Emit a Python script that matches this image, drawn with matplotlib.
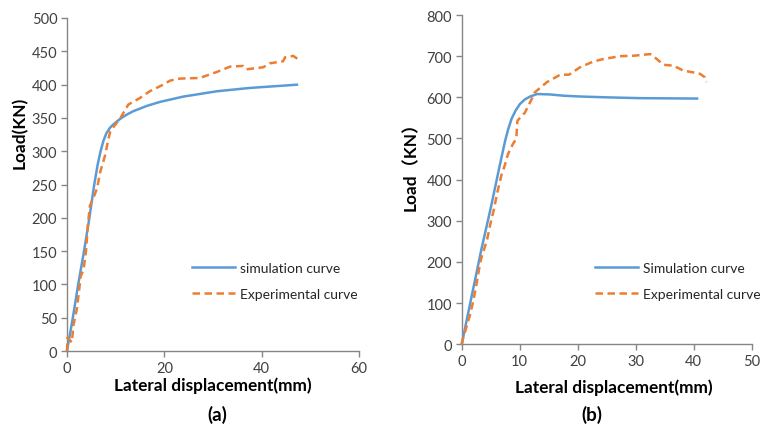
import matplotlib
matplotlib.use("Agg")
import matplotlib.pyplot as plt
from matplotlib.lines import Line2D

# ---------------- data ----------------
# panel (a)
sim_a_x = [0, 1.2, 2.3, 3.5, 4.6, 5.6, 6.3, 6.9, 7.5, 8.1, 8.8, 9.5, 10.3, 11.2, 12.3, 13.6, 16.4,
           19.1, 23.9, 30.8, 37.6, 47.5]
sim_a_y = [0, 50, 100, 150, 200, 250, 280, 300, 316, 327, 335, 340, 345, 350, 355, 360, 368,
           374, 382, 390, 395, 400]
exp_a_x = [0, 0.1, 1.0, 1.3, 2.0, 2.5, 2.8, 3.4, 3.9, 4.3, 4.7, 5.7, 6.2, 6.8, 7.8, 8.5, 8.9,
           10.9, 12.6, 15.0, 17.0, 19.5, 21.2, 23.2, 27.3, 30.8, 33.5, 36.2, 36.9, 40.3,
           41.7, 44.4, 44.8, 46.5, 47.5]
exp_a_y = [0, 20, 13, 38, 62, 92, 112, 122, 150, 190, 218, 235, 245, 268, 293, 318, 330,
           349, 370, 380, 390, 399, 406, 409, 410, 419, 427, 428, 423, 426,
           432, 435, 441, 443, 438]

# panel (b)
sim_b_x = [0, 1.0, 2.0, 3.4, 5.1, 6.55, 7.5, 8.0, 8.6, 9.3, 10.05, 10.9, 11.8, 13.0, 15.2,
           17.5, 20.4, 24.9, 30.7, 40.8]
sim_b_y = [0, 68, 136, 231, 337, 434, 495, 522, 548, 568, 584, 595, 602, 608, 607,
           604, 602, 600, 598, 597]
exp_b_x = [0, 0.2, 0.8, 1.4, 1.95, 2.5, 2.9, 3.2, 3.5, 3.8, 4.4, 5.0, 5.57, 6.14, 6.83, 7.41,
           7.98, 8.84, 9.41, 9.6, 10.9, 11.8, 12.6, 14.7, 17.0, 18.5, 20.4, 22.7, 24.4,
           27.3, 29.6, 32.5, 33.3, 34.8, 36.5, 38.2, 40.5, 41.1, 41.9, 42.2]
exp_b_y = [0, 13, 41, 70, 102, 142, 175, 199, 215, 228, 256, 296, 329, 369, 410, 434,
           462, 487, 499, 543, 563, 588, 612, 637, 655, 655, 673, 687, 693,
           700, 701, 705, 697, 679, 677, 665, 659, 657, 649, 637]

a_xticks = [0, 20, 40, 60]
a_yticks = [0, 50, 100, 150, 200, 250, 300, 350, 400, 450, 500]
b_xticks = [0, 10, 20, 30, 40, 50]
b_yticks = [0, 100, 200, 300, 400, 500, 600, 700, 800]

sim_labels = ["simulation curve", "Simulation curve"]
exp_label = "Experimental curve"

# ---------------- style ----------------
BLUE = "#5B9BD5"
ORANGE = "#ED7D31"
GRAY = "#868686"
FONT = ["Lato", "Noto Sans CJK SC", "DejaVu Sans"]
plt.rcParams["font.family"] = FONT

W, H = 760, 427
fig = plt.figure(figsize=(W / 100, H / 100), dpi=100)


def px_ax(x0, y0, x1, y1):
    return fig.add_axes([x0 / W, 1 - y1 / H, (x1 - x0) / W, (y1 - y0) / H])


def style(ax, xt, yt):
    for s in ["top", "right"]:
        ax.spines[s].set_visible(False)
    for s in ["left", "bottom"]:
        ax.spines[s].set_color(GRAY)
        ax.spines[s].set_linewidth(1.0)
    ax.set_xticks(xt)
    ax.set_yticks(yt)
    ax.set_xlim(xt[0], xt[-1])
    ax.set_ylim(yt[0], yt[-1])
    ax.tick_params(direction="out", length=4, width=1.0, color=GRAY,
                   labelsize=10.5, labelcolor="#404040", pad=3)


def draw(ax, sx, sy, ex, ey):
    ax.plot(sx, sy, color=BLUE, lw=1.8, solid_capstyle="butt", solid_joinstyle="round",
            clip_on=False, zorder=3)
    ax.plot(ex, ey, color=ORANGE, lw=1.8, dashes=(3.0, 1.8), dash_capstyle="butt",
            clip_on=False, zorder=4)


ax1 = px_ax(67, 19, 359, 352)
style(ax1, a_xticks, a_yticks)
draw(ax1, sim_a_x, sim_a_y, exp_a_x, exp_a_y)

ax2 = px_ax(461.7, 16, 751.7, 345.3)
style(ax2, b_xticks, b_yticks)
draw(ax2, sim_b_x, sim_b_y, exp_b_x, exp_b_y)


def legend(ax, x, y, simlab):
    handles = [Line2D([], [], color=BLUE, lw=1.8),
               Line2D([], [], color=ORANGE, lw=1.8, dashes=(3.0, 1.8), dash_capstyle="butt")]
    ax.legend(handles, [simlab, exp_label], loc="center left",
              bbox_to_anchor=(x / W, 1 - y / H), bbox_transform=fig.transFigure,
              frameon=False, fontsize=10, handlelength=3.1, handletextpad=0.35,
              labelspacing=1.0, borderpad=0, borderaxespad=0, labelcolor="#262626")


legend(ax1, 192, 282, sim_labels[0])
legend(ax2, 595, 282, sim_labels[1])

fig.text(213 / W, 1 - 386 / H, "Lateral displacement(mm)", ha="center", va="center",
         fontsize=12.4, fontweight="bold")
fig.text(614 / W, 1 - 388 / H, "Lateral displacement(mm)", ha="center", va="center",
         fontsize=12.4, fontweight="bold")
fig.text(20 / W, 1 - 133 / H, "Load(KN)", ha="center", va="center", rotation=90,
         fontsize=12.4, fontweight="bold")
fig.text(411 / W, 1 - 162 / H, "Load（KN）", ha="center", va="center", rotation=90,
         fontsize=12.4, fontweight="bold")
fig.text(217 / W, 1 - 415 / H, "(a)", ha="center", va="center", fontsize=13.5, fontweight="bold")
fig.text(592 / W, 1 - 415 / H, "(b)", ha="center", va="center", fontsize=13.5, fontweight="bold")

fig.savefig("out.png", dpi=100)
